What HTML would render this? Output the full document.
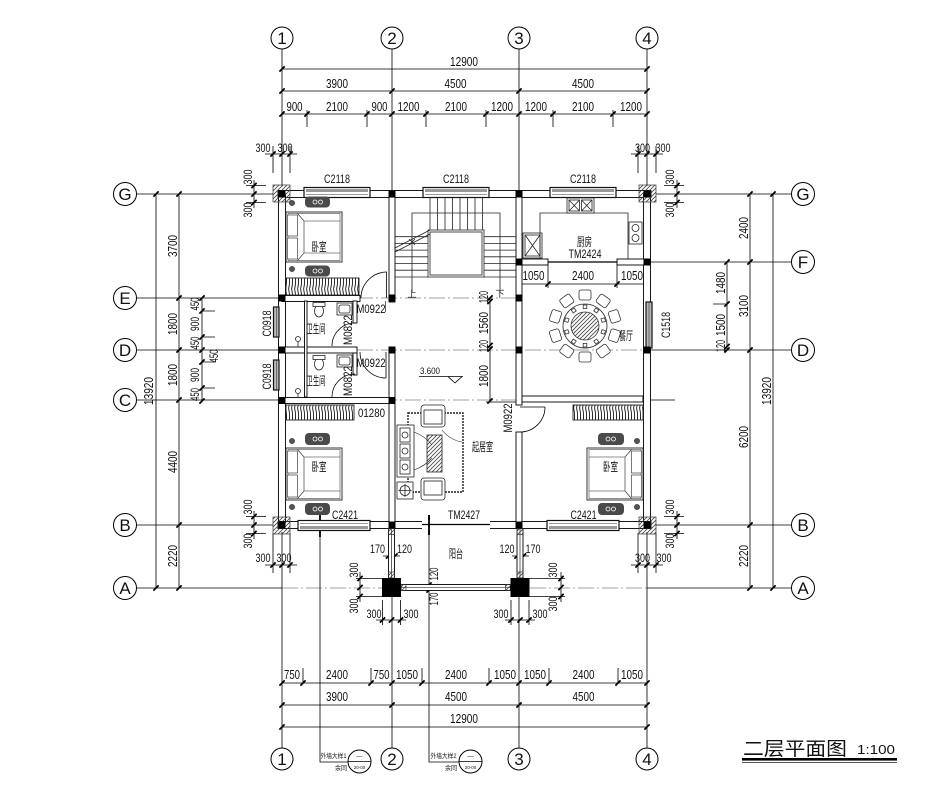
<!DOCTYPE html>
<html><head><meta charset="utf-8">
<style>
html,body{margin:0;padding:0;background:#fff;}
svg{display:block}
text{font-family:"Liberation Sans","Noto Sans CJK SC",sans-serif;fill:#111;}
.d{font-size:12.5px}
.s{font-size:11.5px}
.cn{font-size:12px}
.ax{font-family:"Liberation Serif","Noto Serif CJK SC",serif;font-size:17px}
</style></head><body>
<svg width="938" height="794" viewBox="0 0 938 794" xmlns="http://www.w3.org/2000/svg">
<defs>
<path id="t" d="M-2.6,2.6L2.6,-2.6" stroke="#000" stroke-width="1.7"/>
<pattern id="hd" width="4" height="4" patternUnits="userSpaceOnUse"><path d="M0,4L4,0M-1,1L1,-1M3,5L5,3" stroke="#444" stroke-width=".8"/></pattern>
<pattern id="hc" width="3" height="17" patternUnits="userSpaceOnUse"><path d="M0.6,0Q2.6,8.5 0.6,17" stroke="#111" stroke-width=".9" fill="none"/></pattern>
</defs>
<rect width="938" height="794" fill="#fff"/>

<!-- axis lines -->
<g stroke="#000" stroke-width=".8" fill="none">
<path d="M282,49V186M392,49V190M519,49V190M647,49V186M282,532V748M392,528V748M519,528V748M647,532V748"/>
<path d="M137,194H273M656,194H791M647,262H791M137,298H278M137,350H278M651,350H791M137,400H278M651,400H675M137,525H273M656,525H791M137,588H282M647,588H791"/>
</g>
<g stroke="#444" stroke-width=".6" fill="none" stroke-dasharray="16 3 2 3">
<path d="M285,298H519M285,350H647M285,400H647M282,588H382M401,588H510M530,588H647"/>
</g>

<!-- axis circles -->
<g fill="#fff" stroke="#000" stroke-width="1">
<circle cx="282" cy="38" r="11"/><circle cx="392" cy="38" r="11"/><circle cx="519" cy="38" r="11"/><circle cx="647" cy="38" r="11"/>
<circle cx="282" cy="759" r="11"/><circle cx="392" cy="759" r="11"/><circle cx="519" cy="759" r="11"/><circle cx="647" cy="759" r="11"/>
<circle cx="125" cy="194" r="11.5"/><circle cx="125" cy="298" r="11.5"/><circle cx="125" cy="350" r="11.5"/><circle cx="125" cy="400" r="11.5"/><circle cx="125" cy="525" r="11.5"/><circle cx="125" cy="588" r="11.5"/>
<circle cx="803" cy="194" r="11.5"/><circle cx="803" cy="262" r="11.5"/><circle cx="803" cy="350" r="11.5"/><circle cx="803" cy="525" r="11.5"/><circle cx="803" cy="588" r="11.5"/>
</g>
<g class="ax" text-anchor="middle">
<text x="282" y="44">1</text><text x="392" y="44">2</text><text x="519" y="44">3</text><text x="647" y="44">4</text>
<text x="282" y="765">1</text><text x="392" y="765">2</text><text x="519" y="765">3</text><text x="647" y="765">4</text>
<text x="125" y="200">G</text><text x="125" y="304">E</text><text x="125" y="356">D</text><text x="125" y="406">C</text><text x="125" y="531">B</text><text x="125" y="594">A</text>
<text x="803" y="200">G</text><text x="803" y="268">F</text><text x="803" y="356">D</text><text x="803" y="531">B</text><text x="803" y="594">A</text>
</g>

<!-- dimension lines -->
<g stroke="#000" stroke-width=".8" fill="none">
<path d="M282,69H647M282,91H647M282,114H647M307,110V127M367,110V127M426,110V127M486,110V127M553,110V127M613,110V127"/>
<path d="M265,154H297M273,146V173M290,146V173M631,154H663M638,146V173M656,146V173"/>
<path d="M156,194V588M179,194V588M202,298V401M202,311H215M202,337H215M202,362H215M202,388H215"/>
<path d="M254,180V208M246,185.5H266M246,202.5H266M254,511V539M246,516.5H266M246,533.5H266"/>
<path d="M677,180V208M664,185.5H684M664,202.5H684M677,511V539M664,516.5H684M664,533.5H684"/>
<path d="M750,194V588M773,194V588M727,262V350M713,304H727"/>
<path d="M265,565H297M273,533V573M290,533V573M631,565H663M638,533V573M656,533V573"/>
<path d="M282,683H647M282,705H647M282,727H647M303,668V683M371,668V683M422,668V683M489,668V683M549,668V683M618,668V683"/>
<path d="M490,298V402M486,402H516M519,284H647M548,265V288M617,265V288"/>
<path d="M383,556H400M512,556H529M376,620H406M382.5,600V625M400.5,600V625M505,620H535M511,600V625M529,600V625"/>
<path d="M360,572V602M356,578.5H382M356,596.5H382M561,572V602M529,578.5H565M529,596.5H565"/>
<path d="M320,513V762H348M429,515V762H459M348,761.5H371M459,761.5H482"/>
</g>
<g stroke="#000" stroke-width="1.8"><path d="M320,513V537M429,515V535"/></g>
<circle cx="359.5" cy="761.5" r="11.5" fill="none" stroke="#000" stroke-width="1"/>
<circle cx="470.5" cy="761.5" r="11.5" fill="none" stroke="#000" stroke-width="1"/>

<!-- ticks -->
<g>
<use href="#t" x="282" y="69"/><use href="#t" x="647" y="69"/>
<use href="#t" x="282" y="91"/><use href="#t" x="392" y="91"/><use href="#t" x="519" y="91"/><use href="#t" x="647" y="91"/>
<use href="#t" x="282" y="114"/><use href="#t" x="307" y="114"/><use href="#t" x="367" y="114"/><use href="#t" x="392" y="114"/><use href="#t" x="426" y="114"/><use href="#t" x="486" y="114"/><use href="#t" x="519" y="114"/><use href="#t" x="553" y="114"/><use href="#t" x="613" y="114"/><use href="#t" x="647" y="114"/>
<use href="#t" x="273" y="154"/><use href="#t" x="282" y="154"/><use href="#t" x="290" y="154"/><use href="#t" x="638" y="154"/><use href="#t" x="647" y="154"/><use href="#t" x="656" y="154"/>
<use href="#t" x="156" y="194"/><use href="#t" x="156" y="588"/>
<use href="#t" x="179" y="194"/><use href="#t" x="179" y="298"/><use href="#t" x="179" y="350"/><use href="#t" x="179" y="400"/><use href="#t" x="179" y="525"/><use href="#t" x="179" y="588"/>
<use href="#t" x="202" y="298"/><use href="#t" x="202" y="311"/><use href="#t" x="202" y="337"/><use href="#t" x="202" y="350"/><use href="#t" x="202" y="362"/><use href="#t" x="202" y="388"/><use href="#t" x="202" y="401"/>
<use href="#t" x="254" y="185.5"/><use href="#t" x="254" y="194"/><use href="#t" x="254" y="202.5"/><use href="#t" x="254" y="516.5"/><use href="#t" x="254" y="525"/><use href="#t" x="254" y="533.5"/>
<use href="#t" x="677" y="185.5"/><use href="#t" x="677" y="194"/><use href="#t" x="677" y="202.5"/><use href="#t" x="677" y="516.5"/><use href="#t" x="677" y="525"/><use href="#t" x="677" y="533.5"/>
<use href="#t" x="750" y="194"/><use href="#t" x="750" y="262"/><use href="#t" x="750" y="350"/><use href="#t" x="750" y="525"/><use href="#t" x="750" y="588"/>
<use href="#t" x="773" y="194"/><use href="#t" x="773" y="588"/>
<use href="#t" x="727" y="262"/><use href="#t" x="727" y="304"/><use href="#t" x="727" y="346.5"/><use href="#t" x="727" y="350"/>
<use href="#t" x="273" y="565"/><use href="#t" x="282" y="565"/><use href="#t" x="290" y="565"/><use href="#t" x="638" y="565"/><use href="#t" x="647" y="565"/><use href="#t" x="656" y="565"/>
<use href="#t" x="282" y="683"/><use href="#t" x="303" y="683"/><use href="#t" x="371" y="683"/><use href="#t" x="392" y="683"/><use href="#t" x="422" y="683"/><use href="#t" x="489" y="683"/><use href="#t" x="519" y="683"/><use href="#t" x="549" y="683"/><use href="#t" x="618" y="683"/><use href="#t" x="647" y="683"/>
<use href="#t" x="282" y="705"/><use href="#t" x="392" y="705"/><use href="#t" x="519" y="705"/><use href="#t" x="647" y="705"/>
<use href="#t" x="282" y="727"/><use href="#t" x="647" y="727"/>
<use href="#t" x="490" y="298"/><use href="#t" x="490" y="301.5"/><use href="#t" x="490" y="345.5"/><use href="#t" x="490" y="349"/><use href="#t" x="490" y="401"/>
<use href="#t" x="519" y="284"/><use href="#t" x="548" y="284"/><use href="#t" x="617" y="284"/><use href="#t" x="647" y="284"/>
<use href="#t" x="388.5" y="556"/><use href="#t" x="391.5" y="556"/><use href="#t" x="395" y="556"/><use href="#t" x="517" y="556"/><use href="#t" x="520" y="556"/><use href="#t" x="523.5" y="556"/>
<use href="#t" x="382.5" y="620"/><use href="#t" x="391.5" y="620"/><use href="#t" x="400.5" y="620"/><use href="#t" x="511" y="620"/><use href="#t" x="520" y="620"/><use href="#t" x="529" y="620"/>
<use href="#t" x="360" y="578.5"/><use href="#t" x="360" y="587.5"/><use href="#t" x="360" y="596.5"/><use href="#t" x="561" y="578.5"/><use href="#t" x="561" y="587.5"/><use href="#t" x="561" y="596.5"/>
<use href="#t" x="429" y="585"/><use href="#t" x="429" y="590"/>
</g>

<!-- dimension texts -->
<g class="d" text-anchor="middle">
<text x="464" y="66" textLength="28" lengthAdjust="spacingAndGlyphs">12900</text>
<text x="337" y="88" textLength="22" lengthAdjust="spacingAndGlyphs">3900</text>
<text x="455.5" y="88" textLength="22" lengthAdjust="spacingAndGlyphs">4500</text>
<text x="583" y="88" textLength="22" lengthAdjust="spacingAndGlyphs">4500</text>
<text x="294.5" y="111" textLength="16" lengthAdjust="spacingAndGlyphs">900</text>
<text x="337" y="111" textLength="22" lengthAdjust="spacingAndGlyphs">2100</text>
<text x="379.5" y="111" textLength="16" lengthAdjust="spacingAndGlyphs">900</text>
<text x="408.5" y="111" textLength="22" lengthAdjust="spacingAndGlyphs">1200</text>
<text x="456" y="111" textLength="22" lengthAdjust="spacingAndGlyphs">2100</text>
<text x="502" y="111" textLength="22" lengthAdjust="spacingAndGlyphs">1200</text>
<text x="536" y="111" textLength="22" lengthAdjust="spacingAndGlyphs">1200</text>
<text x="583" y="111" textLength="22" lengthAdjust="spacingAndGlyphs">2100</text>
<text x="631" y="111" textLength="22" lengthAdjust="spacingAndGlyphs">1200</text>

<text x="292" y="679" textLength="16" lengthAdjust="spacingAndGlyphs">750</text>
<text x="337" y="679" textLength="22" lengthAdjust="spacingAndGlyphs">2400</text>
<text x="381.5" y="679" textLength="16" lengthAdjust="spacingAndGlyphs">750</text>
<text x="407" y="679" textLength="22" lengthAdjust="spacingAndGlyphs">1050</text>
<text x="456" y="679" textLength="22" lengthAdjust="spacingAndGlyphs">2400</text>
<text x="505" y="679" textLength="22" lengthAdjust="spacingAndGlyphs">1050</text>
<text x="535" y="679" textLength="22" lengthAdjust="spacingAndGlyphs">1050</text>
<text x="583.5" y="679" textLength="22" lengthAdjust="spacingAndGlyphs">2400</text>
<text x="632" y="679" textLength="22" lengthAdjust="spacingAndGlyphs">1050</text>
<text x="337" y="701" textLength="22" lengthAdjust="spacingAndGlyphs">3900</text>
<text x="456" y="701" textLength="22" lengthAdjust="spacingAndGlyphs">4500</text>
<text x="583.5" y="701" textLength="22" lengthAdjust="spacingAndGlyphs">4500</text>
<text x="464" y="723" textLength="28" lengthAdjust="spacingAndGlyphs">12900</text>

<text x="533.5" y="280" textLength="22" lengthAdjust="spacingAndGlyphs">1050</text>
<text x="583" y="280" textLength="22" lengthAdjust="spacingAndGlyphs">2400</text>
<text x="632" y="280" textLength="22" lengthAdjust="spacingAndGlyphs">1050</text>

<text transform="translate(153,391) rotate(-90)" textLength="28" lengthAdjust="spacingAndGlyphs">13920</text>
<text transform="translate(177,246) rotate(-90)" textLength="22" lengthAdjust="spacingAndGlyphs">3700</text>
<text transform="translate(177,324) rotate(-90)" textLength="22" lengthAdjust="spacingAndGlyphs">1800</text>
<text transform="translate(177,375) rotate(-90)" textLength="22" lengthAdjust="spacingAndGlyphs">1800</text>
<text transform="translate(177,462) rotate(-90)" textLength="22" lengthAdjust="spacingAndGlyphs">4400</text>
<text transform="translate(177,556) rotate(-90)" textLength="22" lengthAdjust="spacingAndGlyphs">2220</text>
<text transform="translate(771,391) rotate(-90)" textLength="28" lengthAdjust="spacingAndGlyphs">13920</text>
<text transform="translate(748,228) rotate(-90)" textLength="22" lengthAdjust="spacingAndGlyphs">2400</text>
<text transform="translate(748,306) rotate(-90)" textLength="22" lengthAdjust="spacingAndGlyphs">3100</text>
<text transform="translate(748,437) rotate(-90)" textLength="22" lengthAdjust="spacingAndGlyphs">6200</text>
<text transform="translate(748,556) rotate(-90)" textLength="22" lengthAdjust="spacingAndGlyphs">2220</text>
<text transform="translate(725,283) rotate(-90)" textLength="22" lengthAdjust="spacingAndGlyphs">1480</text>
<text transform="translate(725,325) rotate(-90)" textLength="22" lengthAdjust="spacingAndGlyphs">1500</text>
<text transform="translate(725,346) rotate(-90)" textLength="12" lengthAdjust="spacingAndGlyphs">120</text>
<text transform="translate(488,297) rotate(-90)" textLength="12" lengthAdjust="spacingAndGlyphs">120</text>
<text transform="translate(488,323) rotate(-90)" textLength="22" lengthAdjust="spacingAndGlyphs">1560</text>
<text transform="translate(488,346) rotate(-90)" textLength="12" lengthAdjust="spacingAndGlyphs">120</text>
<text transform="translate(488,376) rotate(-90)" textLength="22" lengthAdjust="spacingAndGlyphs">1800</text>
</g>
<g class="s" text-anchor="middle">
<text x="263" y="152" textLength="15" lengthAdjust="spacingAndGlyphs">300</text>
<text x="285" y="152" textLength="15" lengthAdjust="spacingAndGlyphs">300</text>
<text x="642.5" y="152" textLength="15" lengthAdjust="spacingAndGlyphs">300</text>
<text x="663" y="152" textLength="15" lengthAdjust="spacingAndGlyphs">300</text>
<text x="263" y="562" textLength="15" lengthAdjust="spacingAndGlyphs">300</text>
<text x="284" y="562" textLength="15" lengthAdjust="spacingAndGlyphs">300</text>
<text x="642.5" y="562" textLength="15" lengthAdjust="spacingAndGlyphs">300</text>
<text x="664" y="562" textLength="15" lengthAdjust="spacingAndGlyphs">300</text>
<text x="374" y="618" textLength="15" lengthAdjust="spacingAndGlyphs">300</text>
<text x="411" y="618" textLength="15" lengthAdjust="spacingAndGlyphs">300</text>
<text x="501" y="618" textLength="15" lengthAdjust="spacingAndGlyphs">300</text>
<text x="540" y="618" textLength="15" lengthAdjust="spacingAndGlyphs">300</text>
<text x="377.5" y="553" textLength="15" lengthAdjust="spacingAndGlyphs">170</text>
<text x="404.5" y="553" textLength="15" lengthAdjust="spacingAndGlyphs">120</text>
<text x="507" y="553" textLength="15" lengthAdjust="spacingAndGlyphs">120</text>
<text x="533" y="553" textLength="15" lengthAdjust="spacingAndGlyphs">170</text>
<text transform="translate(252,177) rotate(-90)" textLength="15" lengthAdjust="spacingAndGlyphs">300</text>
<text transform="translate(252,210) rotate(-90)" textLength="15" lengthAdjust="spacingAndGlyphs">300</text>
<text transform="translate(252,507) rotate(-90)" textLength="15" lengthAdjust="spacingAndGlyphs">300</text>
<text transform="translate(252,541) rotate(-90)" textLength="15" lengthAdjust="spacingAndGlyphs">300</text>
<text transform="translate(674,177) rotate(-90)" textLength="15" lengthAdjust="spacingAndGlyphs">300</text>
<text transform="translate(674,210) rotate(-90)" textLength="15" lengthAdjust="spacingAndGlyphs">300</text>
<text transform="translate(674,507) rotate(-90)" textLength="15" lengthAdjust="spacingAndGlyphs">300</text>
<text transform="translate(674,541) rotate(-90)" textLength="15" lengthAdjust="spacingAndGlyphs">300</text>
<text transform="translate(358,570) rotate(-90)" textLength="15" lengthAdjust="spacingAndGlyphs">300</text>
<text transform="translate(358,606) rotate(-90)" textLength="15" lengthAdjust="spacingAndGlyphs">300</text>
<text transform="translate(557,570) rotate(-90)" textLength="15" lengthAdjust="spacingAndGlyphs">300</text>
<text transform="translate(557,604) rotate(-90)" textLength="15" lengthAdjust="spacingAndGlyphs">300</text>
<text transform="translate(199,304) rotate(-90)" textLength="13" lengthAdjust="spacingAndGlyphs">450</text>
<text transform="translate(199,324) rotate(-90)" textLength="14" lengthAdjust="spacingAndGlyphs">900</text>
<text transform="translate(199,343) rotate(-90)" textLength="13" lengthAdjust="spacingAndGlyphs">450</text>
<text transform="translate(218,356) rotate(-90)" textLength="13" lengthAdjust="spacingAndGlyphs">450</text>
<text transform="translate(199,375) rotate(-90)" textLength="14" lengthAdjust="spacingAndGlyphs">900</text>
<text transform="translate(199,394.5) rotate(-90)" textLength="13" lengthAdjust="spacingAndGlyphs">450</text>
<text transform="translate(438,574) rotate(-90)" textLength="13" lengthAdjust="spacingAndGlyphs">120</text>
<text transform="translate(438,599) rotate(-90)" textLength="13" lengthAdjust="spacingAndGlyphs">170</text>
</g>

<!-- walls -->
<g fill="#fff" stroke="#000" stroke-width=".9">
<rect x="278" y="190.5" width="373" height="7"/>
<rect x="278.5" y="194" width="7" height="331"/>
<rect x="643.5" y="194" width="7" height="331"/>
<rect x="278" y="521.5" width="373" height="7"/>
<rect x="389" y="194" width="6" height="108"/>
<rect x="389" y="347" width="6" height="178"/>
<rect x="516" y="194" width="6" height="211"/>
<rect x="516" y="432" width="6" height="93"/>
<rect x="282" y="295.5" width="78" height="6"/>
<rect x="282" y="347" width="75" height="6"/>
<rect x="282" y="397.5" width="110" height="6"/>
<rect x="304.5" y="301" width="2.5" height="96"/>
<rect x="353" y="301" width="4" height="22"/>
<rect x="353" y="353" width="4" height="22"/>
<rect x="519" y="259" width="29" height="6"/>
<rect x="617" y="259" width="30" height="6"/>
<rect x="522" y="396" width="121" height="6"/>
<rect x="388.5" y="528.5" width="6" height="50"/>
<rect x="517" y="528.5" width="6" height="50"/>
<rect x="401" y="584.5" width="109.5" height="6"/>
</g>
<g stroke="#000" stroke-width=".6" fill="none">
<path d="M391.5,528.5V578M520,528.5V578M401,587.5H510.5M385.5,301V312"/>
</g>
<g fill="url(#hd)" stroke="#333" stroke-width=".7">
<rect x="388.5" y="528.5" width="6" height="6"/><rect x="388.5" y="572" width="6" height="6"/>
<rect x="517" y="528.5" width="6" height="6"/><rect x="517" y="572" width="6" height="6"/>
<rect x="401" y="584.5" width="5" height="6"/><rect x="505.5" y="584.5" width="5" height="6"/>
<rect x="273" y="185" width="17" height="17"/><rect x="639" y="185" width="17" height="17"/>
<rect x="273" y="517" width="17" height="17"/><rect x="639" y="517" width="17" height="17"/>
</g>

<!-- windows -->
<g stroke="#111" stroke-width="1.2">
<rect x="304" y="187.5" width="66" height="10" fill="#fff"/><rect x="306" y="189" width="62" height="3" fill="#999" stroke="none"/>
<rect x="423" y="187.5" width="66" height="10" fill="#fff"/><rect x="425" y="189" width="62" height="3" fill="#999" stroke="none"/>
<rect x="550" y="187.5" width="66" height="10" fill="#fff"/><rect x="552" y="189" width="62" height="3" fill="#999" stroke="none"/>
<rect x="298" y="520.5" width="72" height="10" fill="#fff"/><rect x="300" y="526" width="68" height="3" fill="#999" stroke="none"/>
<rect x="547" y="520.5" width="72" height="10" fill="#fff"/><rect x="549" y="526" width="68" height="3" fill="#999" stroke="none"/>
<rect x="273.5" y="307" width="5.5" height="30" fill="#bbb"/>
<rect x="273.5" y="360" width="5.5" height="30" fill="#bbb"/>
<rect x="646" y="302" width="6" height="46" fill="#bbb"/>
</g>
<g stroke="#333" stroke-width=".6"><path d="M306,194.5H368M425,194.5H487M552,194.5H614M300,523.5H368M549,523.5H617M276.3,307V337M276.3,360V390M649,302V348"/></g>
<!-- door TM2427 -->
<rect x="422" y="520" width="68" height="10" fill="#fff"/>
<path d="M422,524.5H490" stroke="#000" stroke-width="1.2"/>
<path d="M429,515V535" stroke="#000" stroke-width="1.8"/>
<path d="M548,262H617" stroke="#000" stroke-width="1.3"/>

<!-- columns -->
<g fill="#000">
<rect x="388.5" y="190.5" width="7" height="7"/><rect x="515.5" y="190.5" width="7" height="7"/>
<rect x="278.5" y="294.5" width="7" height="7"/><rect x="388.5" y="294.5" width="7" height="7"/><rect x="515.5" y="294.5" width="7" height="7"/>
<rect x="278.5" y="346.5" width="7" height="7"/><rect x="388.5" y="346.5" width="7" height="7"/><rect x="515.5" y="346.5" width="7" height="7"/><rect x="643.5" y="346.5" width="7" height="7"/>
<rect x="278.5" y="397" width="7" height="7"/><rect x="388.5" y="397" width="7" height="7"/>
<rect x="515.5" y="258.5" width="7" height="7"/><rect x="643.5" y="258.5" width="7" height="7"/>
<rect x="388.5" y="521.5" width="7" height="7"/><rect x="515.5" y="521.5" width="7" height="7"/>
<rect x="278.5" y="190.5" width="7" height="7"/><rect x="643.5" y="190.5" width="7" height="7"/>
<rect x="278.5" y="521.5" width="7" height="7"/><rect x="643.5" y="521.5" width="7" height="7"/>
<rect x="382" y="578" width="19" height="19"/><rect x="510.5" y="578" width="19" height="19"/>
</g>

<!-- doors -->
<g fill="none" stroke="#000" stroke-width=".8">
<path d="M361,298A26,26 0 0 1 387,272M386.5,298V272"/>
<path d="M332,346A23,23 0 0 1 355,323M332,397A23,23 0 0 1 355,374"/>
<path d="M386,378A26,26 0 0 1 360,352M386,352V378"/>
<path d="M545,407A25,25 0 0 1 520,432M520,407H545"/>
</g>

<!-- stair -->
<g fill="none" stroke="#222" stroke-width=".8">
<path d="M430,197.5V230M437.5,197.5V230M445,197.5V230M452.5,197.5V230M460,197.5V230M467.5,197.5V230M475,197.5V230M482.5,197.5V230"/>
<path d="M395,236.7H428M395,243.4H428M395,250.1H428M395,256.8H428M395,263.5H428M395,270.2H428M395,277H428"/>
<path d="M484,236.7H516M484,243.4H516M484,250.1H516M484,256.8H516M484,263.5H516M484,270.2H516M484,277H516"/>
<rect x="428" y="230" width="56" height="47"/><rect x="430" y="232" width="52" height="43"/>
<path d="M412,292V213H500V292"/>
<path d="M395,248L430,230M395,252L430,234"/>
<path d="M409,239L415,245M415,239L409,245"/>
</g>
<text x="412" y="297" font-size="9" text-anchor="middle">上</text>
<text x="500" y="297" font-size="9" text-anchor="middle">下</text>

<!-- kitchen -->
<g fill="none" stroke="#222" stroke-width=".8">
<path d="M540,259V213H628V259"/>
<rect x="567" y="198" width="27" height="15" fill="#fff"/>
<rect x="569" y="200" width="10.5" height="11"/><rect x="581.5" y="200" width="10.5" height="11"/>
<path d="M569,200L579.5,211M579.5,200L569,211M581.5,200L592,211M592,200L581.5,211"/>
<rect x="629" y="222" width="13" height="22" fill="#fff"/>
<circle cx="635.5" cy="228" r="3.5"/><circle cx="635.5" cy="238" r="3.5"/>
<rect x="523" y="233" width="19" height="25"/><rect x="525" y="235" width="15" height="21"/>
<path d="M525,235L540,256M540,235L525,256"/>
</g>

<!-- dining table -->
<g fill="#fff" stroke="#333" stroke-width=".8">
<g transform="translate(585,326)">
<rect x="-6" y="-36" width="12" height="10" rx="2" transform="rotate(0)"/>
<rect x="-6" y="-36" width="12" height="10" rx="2" transform="rotate(36)"/>
<rect x="-6" y="-36" width="12" height="10" rx="2" transform="rotate(72)"/>
<rect x="-6" y="-36" width="12" height="10" rx="2" transform="rotate(108)"/>
<rect x="-6" y="-36" width="12" height="10" rx="2" transform="rotate(144)"/>
<rect x="-6" y="-36" width="12" height="10" rx="2" transform="rotate(180)"/>
<rect x="-6" y="-36" width="12" height="10" rx="2" transform="rotate(216)"/>
<rect x="-6" y="-36" width="12" height="10" rx="2" transform="rotate(252)"/>
<rect x="-6" y="-36" width="12" height="10" rx="2" transform="rotate(288)"/>
<rect x="-6" y="-36" width="12" height="10" rx="2" transform="rotate(324)"/>
<circle r="22"/>
<circle r="14" fill="url(#hd)"/>
<rect x="-1.8" y="-21" width="3.6" height="3.6" transform="rotate(0)"/>
<rect x="-1.8" y="-21" width="3.6" height="3.6" transform="rotate(36)"/>
<rect x="-1.8" y="-21" width="3.6" height="3.6" transform="rotate(72)"/>
<rect x="-1.8" y="-21" width="3.6" height="3.6" transform="rotate(108)"/>
<rect x="-1.8" y="-21" width="3.6" height="3.6" transform="rotate(144)"/>
<rect x="-1.8" y="-21" width="3.6" height="3.6" transform="rotate(180)"/>
<rect x="-1.8" y="-21" width="3.6" height="3.6" transform="rotate(216)"/>
<rect x="-1.8" y="-21" width="3.6" height="3.6" transform="rotate(252)"/>
<rect x="-1.8" y="-21" width="3.6" height="3.6" transform="rotate(288)"/>
<rect x="-1.8" y="-21" width="3.6" height="3.6" transform="rotate(324)"/>
</g>
</g>

<!-- living room -->
<g fill="#fff" stroke="#222" stroke-width=".8">
<rect x="408" y="413" width="55" height="79" fill="none" stroke-width="1.4" stroke-dasharray="2 1"/>
<rect x="421" y="405" width="24" height="22" rx="3"/><rect x="424" y="410" width="18" height="14"/>
<rect x="421" y="478" width="24" height="22" rx="3"/><rect x="424" y="481" width="18" height="14"/>
<rect x="397" y="425" width="17" height="52"/>
<rect x="400" y="428" width="10" height="14"/><rect x="400" y="444" width="10" height="14"/><rect x="400" y="460" width="10" height="14"/>
<circle cx="405" cy="435" r="3"/><circle cx="405" cy="451" r="3"/><circle cx="405" cy="467" r="3"/>
<rect x="427" y="435" width="15" height="37" fill="url(#hd)"/>
<rect x="397" y="482" width="16" height="17"/><circle cx="405" cy="490.5" r="5"/>
<path d="M405,484V497M398.5,490.5H411.5" fill="none"/>
<path d="M414,432Q425,436 432,445M414,470Q425,466 432,458M442,430Q450,440 462,442" fill="none" stroke-width=".6"/>
</g>

<!-- bedrooms -->
<g fill="#fff" stroke="#222" stroke-width=".9">
<rect x="286" y="278" width="73" height="17" fill="url(#hc)"/>
<rect x="286" y="405" width="68" height="15" fill="url(#hc)"/>
<rect x="573" y="405" width="70" height="15" fill="url(#hc)"/>
</g>
<g fill="#fff" stroke="#222" stroke-width=".9">
<g transform="translate(286,212)">
<rect width="56" height="50"/><rect x="2" y="1.5" width="52" height="47" fill="none" stroke-width=".5"/>
<rect x="1.5" y="3" width="10" height="21" stroke-width=".6"/><rect x="1.5" y="26" width="10" height="21" stroke-width=".6"/>
<path d="M11.5,1.5L18,9H54M11.5,48.5L18,41H54M18,9V41" fill="none" stroke-width=".6"/>
</g>
<g transform="translate(286,448)">
<rect width="56" height="52"/><rect x="2" y="1.5" width="52" height="49" fill="none" stroke-width=".5"/>
<rect x="1.5" y="3" width="10" height="22" stroke-width=".6"/><rect x="1.5" y="27" width="10" height="22" stroke-width=".6"/>
<path d="M11.5,1.5L18,9H54M11.5,50.5L18,43H54M18,9V43" fill="none" stroke-width=".6"/>
</g>
<g transform="translate(643,448) scale(-1,1)">
<rect width="56" height="52"/><rect x="2" y="1.5" width="52" height="49" fill="none" stroke-width=".5"/>
<rect x="1.5" y="3" width="10" height="22" stroke-width=".6"/><rect x="1.5" y="27" width="10" height="22" stroke-width=".6"/>
<path d="M11.5,1.5L18,9H54M11.5,50.5L18,43H54M18,9V43" fill="none" stroke-width=".6"/>
</g>
</g>
<g fill="#4a4a4a">
<rect x="305" y="196.5" width="25" height="11" rx="4"/><rect x="305" y="265.5" width="25" height="11" rx="4"/>
<rect x="305" y="433" width="25" height="12" rx="4"/><rect x="305" y="503" width="25" height="12" rx="4"/>
<rect x="598" y="433" width="26" height="12" rx="4"/><rect x="598" y="503" width="26" height="12" rx="4"/>
</g>
<g fill="none" stroke="#fff" stroke-width=".8">
<circle cx="315" cy="202" r="2"/><circle cx="320.5" cy="202" r="2"/><circle cx="315" cy="271" r="2"/><circle cx="320.5" cy="271" r="2"/>
<circle cx="315" cy="439" r="2"/><circle cx="320.5" cy="439" r="2"/><circle cx="315" cy="509" r="2"/><circle cx="320.5" cy="509" r="2"/>
<circle cx="608" cy="439" r="2"/><circle cx="613.5" cy="439" r="2"/><circle cx="608" cy="509" r="2"/><circle cx="613.5" cy="509" r="2"/>
</g>
<g fill="#555" stroke="#222" stroke-width=".6">
<circle cx="292" cy="203" r="2.6"/><circle cx="292" cy="269" r="2.6"/>
<circle cx="292" cy="441" r="2.6"/><circle cx="292" cy="507" r="2.6"/>
<circle cx="637" cy="441" r="2.6"/><circle cx="637" cy="507" r="2.6"/>
</g>

<!-- bathrooms -->
<g fill="#fff" stroke="#222" stroke-width=".8">
<ellipse cx="319" cy="311" rx="4.5" ry="6"/><rect x="313" y="302.5" width="12" height="4"/>
<ellipse cx="319" cy="364" rx="4.5" ry="6"/><rect x="313" y="355.5" width="12" height="4"/>
<rect x="337" y="303" width="15" height="12"/><rect x="339" y="305" width="11" height="8" rx="2"/>
<rect x="337" y="355" width="15" height="12"/><rect x="339" y="357" width="11" height="8" rx="2"/>
<circle cx="298" cy="339" r="2.5"/><circle cx="298" cy="391" r="2.5"/>
<path d="M298,341.5V347M298,393.5V397" fill="none"/>
</g>

<!-- elevation -->
<text x="420" y="374" font-size="9.5" textLength="20" lengthAdjust="spacingAndGlyphs">3.600</text>
<path d="M419,376.5H463M448,376.5L462,376.5L455,383Z" fill="none" stroke="#000" stroke-width=".8"/>

<!-- labels -->
<g class="s" text-anchor="middle">
<text x="337" y="183" textLength="26" lengthAdjust="spacingAndGlyphs">C2118</text>
<text x="456" y="183" textLength="26" lengthAdjust="spacingAndGlyphs">C2118</text>
<text x="583" y="183" textLength="26" lengthAdjust="spacingAndGlyphs">C2118</text>
<text x="345" y="519" textLength="26" lengthAdjust="spacingAndGlyphs">C2421</text>
<text x="583.5" y="519" textLength="26" lengthAdjust="spacingAndGlyphs">C2421</text>
<text x="464" y="519" textLength="32" lengthAdjust="spacingAndGlyphs">TM2427</text>
<text x="585" y="258" textLength="33" lengthAdjust="spacingAndGlyphs">TM2424</text>
<text x="371" y="313" textLength="29" lengthAdjust="spacingAndGlyphs">M0922</text>
<text x="371" y="367" textLength="29" lengthAdjust="spacingAndGlyphs">M0922</text>
<text x="371.5" y="417" textLength="27" lengthAdjust="spacingAndGlyphs">01280</text>
<text transform="translate(271,323.5) rotate(-90)" textLength="26" lengthAdjust="spacingAndGlyphs">C0918</text>
<text transform="translate(271,376.5) rotate(-90)" textLength="26" lengthAdjust="spacingAndGlyphs">C0918</text>
<text transform="translate(670,325) rotate(-90)" textLength="26" lengthAdjust="spacingAndGlyphs">C1518</text>
<text transform="translate(352,330) rotate(-90)" textLength="30" lengthAdjust="spacingAndGlyphs">M0822</text>
<text transform="translate(352,381) rotate(-90)" textLength="30" lengthAdjust="spacingAndGlyphs">M0822</text>
<text transform="translate(512,418) rotate(-90)" textLength="29" lengthAdjust="spacingAndGlyphs">M0922</text>
</g>
<g class="cn" text-anchor="middle">
<text x="319" y="251" textLength="15" lengthAdjust="spacingAndGlyphs">卧室</text>
<text x="319" y="471" textLength="15" lengthAdjust="spacingAndGlyphs">卧室</text>
<text x="610.5" y="471" textLength="15" lengthAdjust="spacingAndGlyphs">卧室</text>
<text x="584.5" y="246" textLength="15" lengthAdjust="spacingAndGlyphs">厨房</text>
<text x="626" y="340" textLength="14" lengthAdjust="spacingAndGlyphs">餐厅</text>
<text x="482.5" y="451" textLength="21" lengthAdjust="spacingAndGlyphs">起居室</text>
<text x="456" y="558" textLength="14" lengthAdjust="spacingAndGlyphs">阳台</text>
<text x="316" y="333" textLength="19" lengthAdjust="spacingAndGlyphs">卫生间</text>
<text x="316" y="385" textLength="19" lengthAdjust="spacingAndGlyphs">卫生间</text>
</g>

<!-- section marks -->
<g font-size="6.5" text-anchor="middle">
<text x="333.5" y="758" textLength="26" lengthAdjust="spacingAndGlyphs">外墙大样1</text>
<text x="341" y="770" textLength="12" lengthAdjust="spacingAndGlyphs">余同</text>
<text x="443.5" y="758" textLength="26" lengthAdjust="spacingAndGlyphs">外墙大样2</text>
<text x="451" y="770" textLength="12" lengthAdjust="spacingAndGlyphs">余同</text>
<text x="359.5" y="758" font-size="6">—</text>
<text x="359.5" y="769" font-size="4.5">20-00</text>
<text x="470.5" y="758" font-size="6">—</text>
<text x="470.5" y="769" font-size="4.5">20-00</text>
</g>

<!-- title -->
<text x="743" y="755" font-size="19" font-family="'Liberation Sans','Noto Sans CJK SC',sans-serif" textLength="104" lengthAdjust="spacingAndGlyphs">二层平面图</text>
<text x="857" y="754" font-size="12.5" textLength="38" lengthAdjust="spacingAndGlyphs">1:100</text>
<rect x="742" y="758" width="155" height="2.6" fill="#000"/>
<rect x="742" y="762" width="155" height="1" fill="#555"/>
</svg>
</body></html>
